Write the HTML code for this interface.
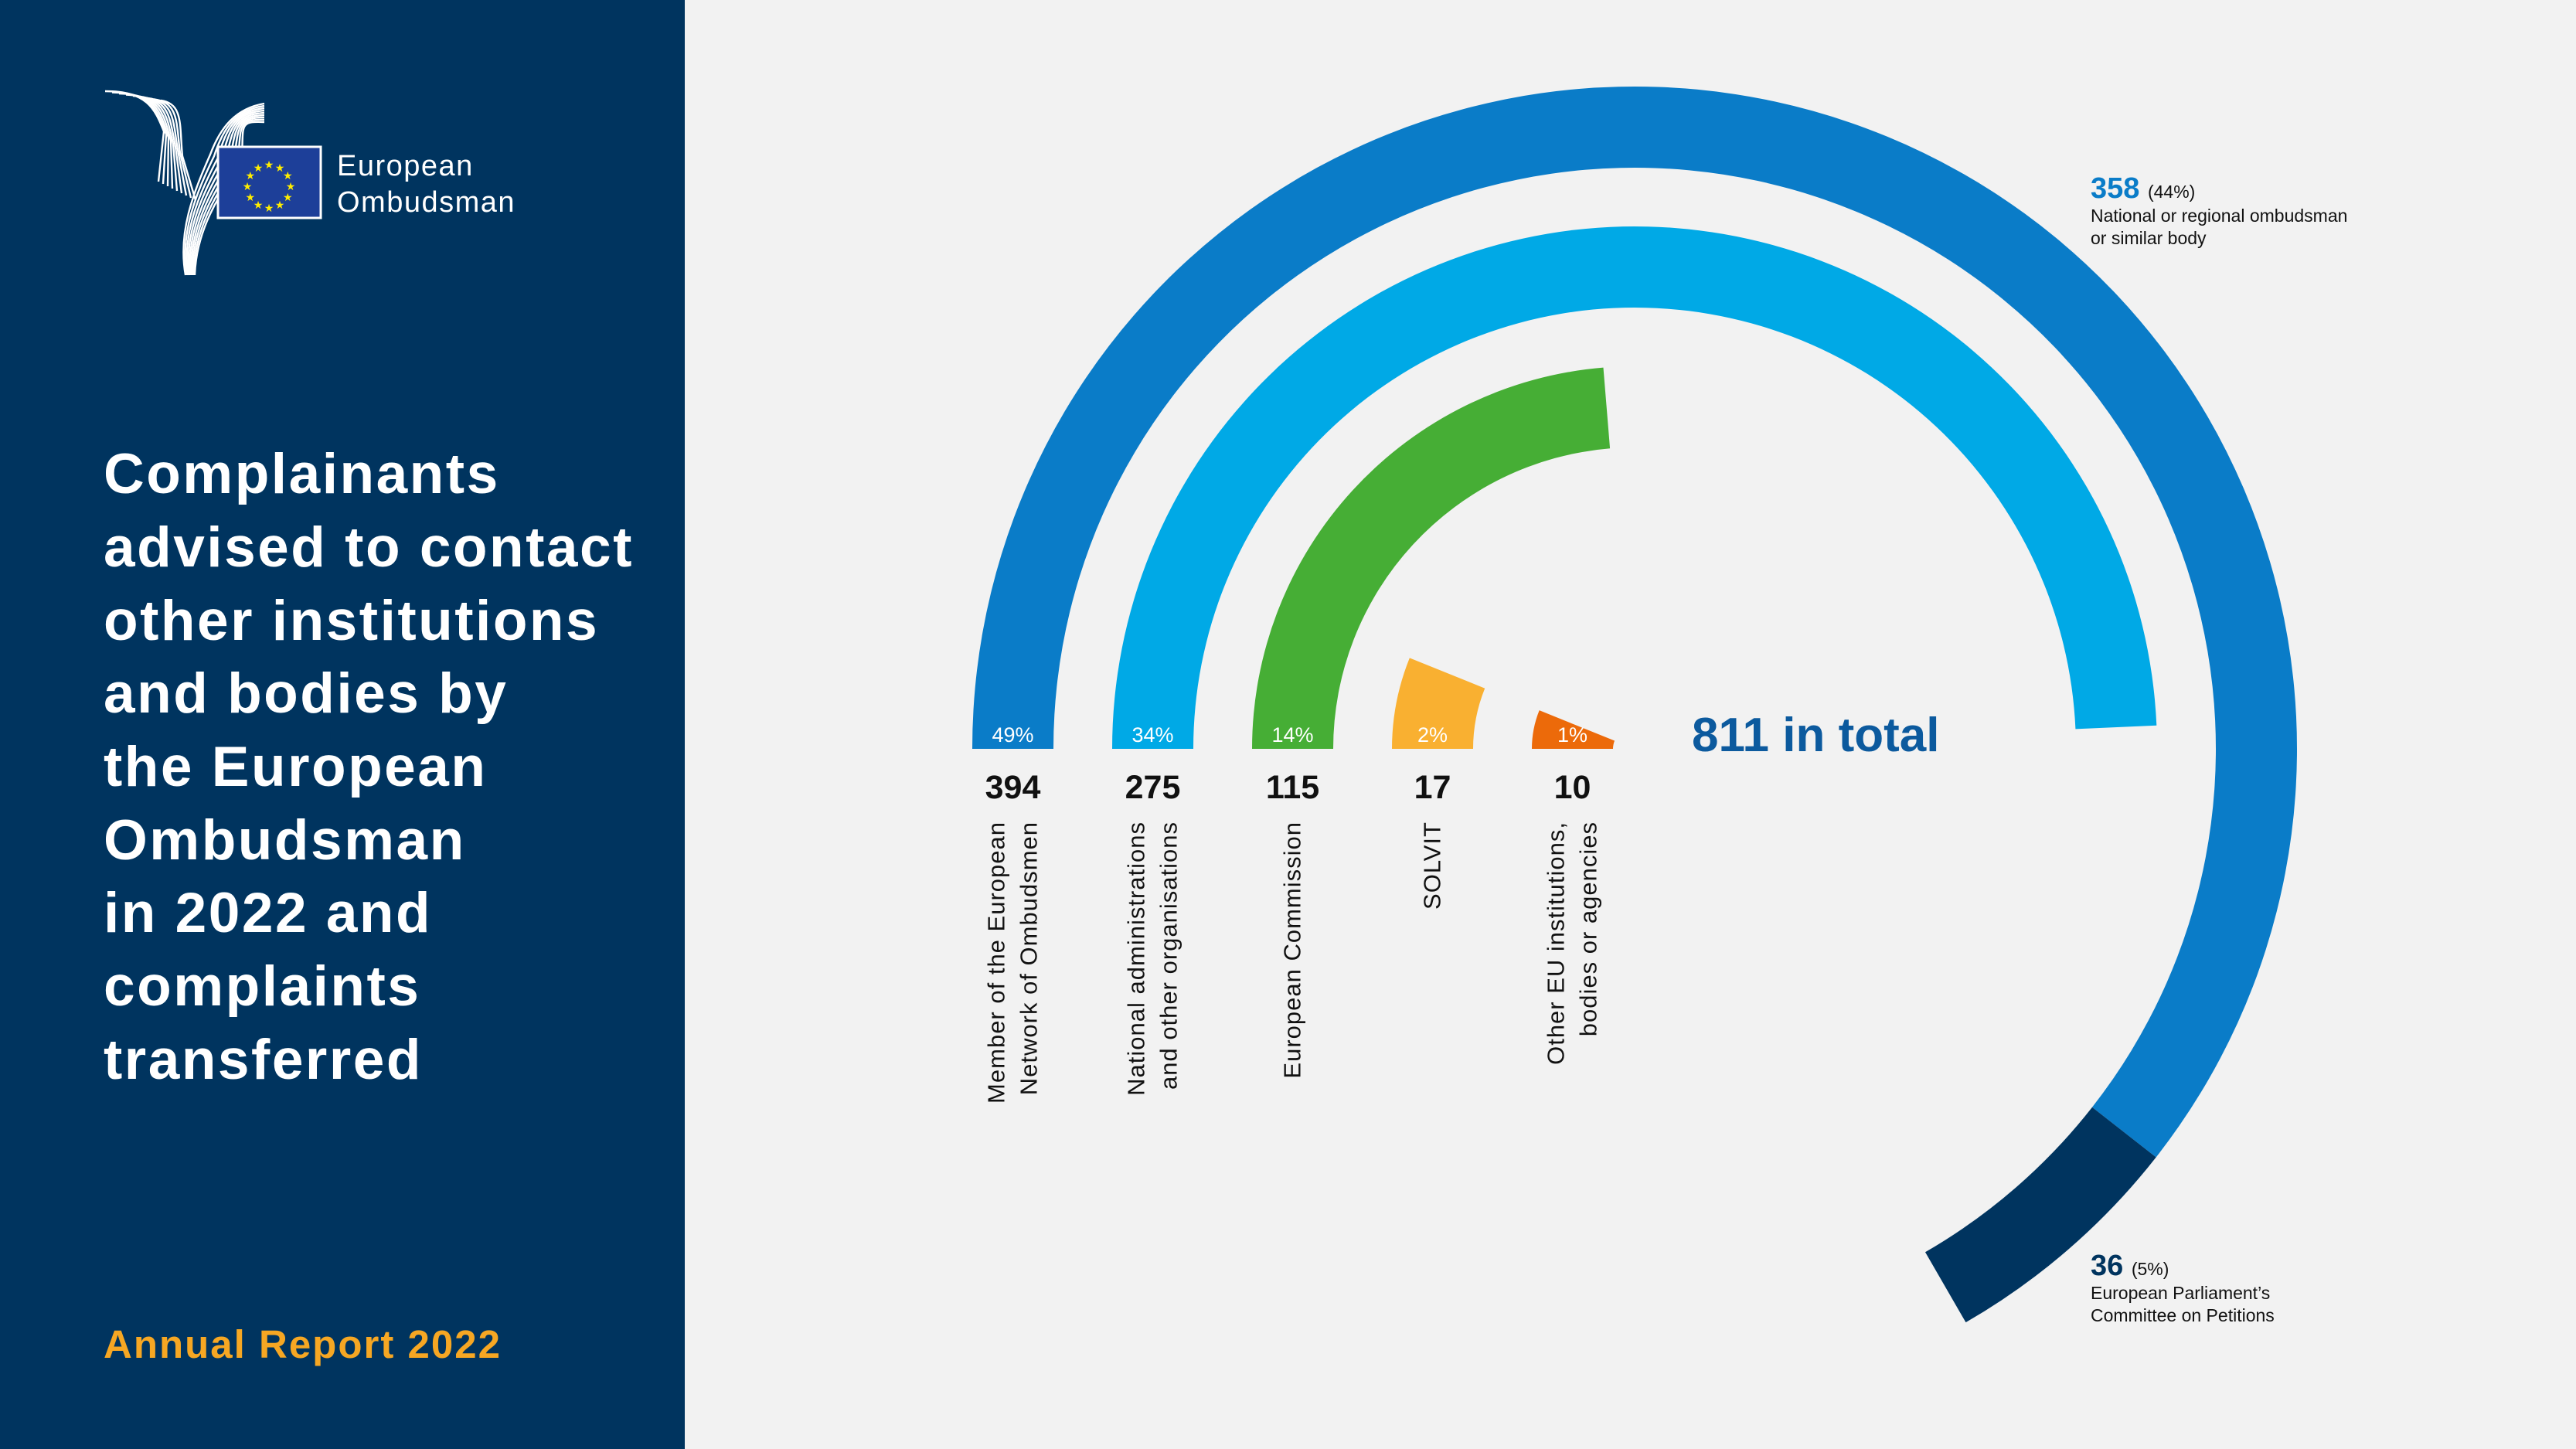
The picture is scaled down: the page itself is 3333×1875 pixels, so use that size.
<!DOCTYPE html>
<html><head><meta charset="utf-8">
<style>
html,body{margin:0;padding:0;width:3333px;height:1875px;overflow:hidden;background:#f2f2f2;font-family:"Liberation Sans",sans-serif}
svg{display:block}
</style></head>
<body>
<svg id="chart" width="3333" height="1875" viewBox="0 0 3333 1875" xmlns="http://www.w3.org/2000/svg">
  <rect x="0" y="0" width="3333" height="1875" fill="#f2f2f2"/>
  <rect x="0" y="0" width="886" height="1875" fill="#00345f"/>
  <g>
    <g id="wing" fill="none" stroke="#ffffff" stroke-width="2.4"></g>
    <rect x="282" y="190" width="133" height="92" fill="#1d3f99" stroke="#ffffff" stroke-width="3"/>
    <g fill="#ffed00" font-size="14" text-anchor="middle" font-family="DejaVu Sans">
      <text x="348" y="245" id="stars"></text>
    </g>
    <text x="436" y="227" fill="#fff" font-size="38" letter-spacing="1.5">European</text>
    <text x="436" y="274" fill="#fff" font-size="38" letter-spacing="1.5">Ombudsman</text>
  </g>
  <g fill="#ffffff" font-size="73" font-weight="bold" letter-spacing="2.5">
    <text x="134" y="638">Complainants</text>
    <text x="134" y="733">advised to contact</text>
    <text x="134" y="828">other institutions</text>
    <text x="134" y="922">and bodies by</text>
    <text x="134" y="1017">the European</text>
    <text x="134" y="1112">Ombudsman</text>
    <text x="134" y="1206">in 2022 and</text>
    <text x="134" y="1301">complaints</text>
    <text x="134" y="1396">transferred</text>
  </g>
  <text x="134" y="1757" fill="#f6a723" font-size="51" font-weight="bold" letter-spacing="2">Annual Report 2022</text>
  <g id="rings"></g>
  <g id="labels"></g>
  <text x="2189" y="972" fill="#0c5a9e" font-size="62" font-weight="bold">811 in total</text>
  <g>
    <text x="2705" y="256" font-size="38" font-weight="bold" fill="#0a7cc8">358 <tspan font-size="23" font-weight="normal" fill="#111">(44%)</tspan></text>
    <text x="2705" y="287" font-size="23" fill="#111">National or regional ombudsman</text>
    <text x="2705" y="316" font-size="23" fill="#111">or similar body</text>
  </g>
  <g>
    <text x="2705" y="1650" font-size="38" font-weight="bold" fill="#00345f">36 <tspan font-size="23" font-weight="normal" fill="#111">(5%)</tspan></text>
    <text x="2705" y="1681" font-size="23" fill="#111">European Parliament’s</text>
    <text x="2705" y="1710" font-size="23" fill="#111">Committee on Petitions</text>
  </g>
</svg>
<script>
const categories = [["Member of the European","Network of Ombudsmen"],["National administrations","and other organisations"],["European Commission"],["SOLVIT"],["Other EU institutions,","bodies or agencies"]];
const values = [394, 275, 115, 17, 10];
const percents = ["49%","34%","14%","2%","1%"];
const colors = ["#0a7cc8","#00a9e6","#46ae35","#f9b031","#ec6a0a"];
const outerSplit = [358, 36];
const outerSplitColors = ["#0a7cc8","#00345f"];

const NS = "http://www.w3.org/2000/svg";
const cx = 2115, cy = 969, outer0 = 857, step = 181, width = 105;
const vmax = Math.max(...values);
function angleScale(v){ return Math.max(22, 240 * Math.pow(v / vmax, 0.84)); }
function pt(r, a){ const t = a*Math.PI/180; return [cx - r*Math.cos(t), cy - r*Math.sin(t)]; }
function arcPath(r0, r1, a0, a1){
  const large = (a1 - a0) > 180 ? 1 : 0;
  const p0 = pt(r1,a0), p1 = pt(r1,a1), p2 = pt(r0,a1), p3 = pt(r0,a0);
  return `M${p0[0]} ${p0[1]} A${r1} ${r1} 0 ${large} 1 ${p1[0]} ${p1[1]} L${p2[0]} ${p2[1]} A${r0} ${r0} 0 ${large} 0 ${p3[0]} ${p3[1]} Z`;
}
const rings = document.getElementById('rings');
const labels = document.getElementById('labels');
values.forEach((v, i) => {
  const r1 = outer0 - i*step, r0 = r1 - width;
  const sweep = angleScale(v);
  if (i === 0) {
    const tot = outerSplit.reduce((a,b)=>a+b,0);
    let a = 0;
    outerSplit.forEach((sv, j) => {
      const a2 = a + sweep * sv / tot;
      const p = document.createElementNS(NS,'path');
      p.setAttribute('d', arcPath(r0, r1, a, a2));
      p.setAttribute('fill', outerSplitColors[j]);
      
      
      rings.appendChild(p);
      a = a2;
    });
  } else {
    const p = document.createElementNS(NS,'path');
    p.setAttribute('d', arcPath(r0, r1, 0, sweep));
    p.setAttribute('fill', colors[i]);
    
    
    rings.appendChild(p);
  }
  const mx = cx - (r0 + r1)/2;
  const pc = document.createElementNS(NS,'text');
  pc.setAttribute('x', mx); pc.setAttribute('y', 960);
  pc.setAttribute('text-anchor','middle'); pc.setAttribute('fill','#fff'); pc.setAttribute('font-size','27');
  pc.textContent = percents[i];
  
  
  labels.appendChild(pc);
  const nv = document.createElementNS(NS,'text');
  nv.setAttribute('x', mx); nv.setAttribute('y', 1033);
  nv.setAttribute('text-anchor','middle'); nv.setAttribute('fill','#111'); nv.setAttribute('font-size','43'); nv.setAttribute('font-weight','bold');
  nv.textContent = v;
  
  
  labels.appendChild(nv);
  const lines = categories[i];
  lines.forEach((ln, k) => {
    const x = mx + 10 + (k - (lines.length-1)/2) * 42;
    const t = document.createElementNS(NS,'text');
    t.setAttribute('transform', `translate(${x},1063) rotate(-90)`);
    t.setAttribute('text-anchor','end'); t.setAttribute('fill','#111'); t.setAttribute('font-size','31'); t.setAttribute('letter-spacing','1');
    t.textContent = ln;
    
    
    labels.appendChild(t);
  });
});
// EU stars
const starG = document.getElementById('stars').parentNode;
for (let k=0;k<12;k++){
  const a = k*30*Math.PI/180;
  const s = document.createElementNS(NS,'text');
  s.setAttribute('x', 348 + 28*Math.sin(a)); s.setAttribute('y', 241 - 28*Math.cos(a) + 5);
  s.textContent = '★';
  
  
  starG.appendChild(s);
}
// wing stripes
const wing = document.getElementById('wing');
for (let i=0;i<9;i++){
  const p = document.createElementNS(NS,'path');
  p.setAttribute('d', `M${136+i*9} ${118+i*1.5} C${190+i*6} ${118+i*2} ${200+i*4} ${140+i*3} ${212+i*3} ${170+i*4} L${205+i*6} ${235+i*3}`);
  
  
  wing.appendChild(p);
  const q = document.createElementNS(NS,'path');
  q.setAttribute('d', `M${240+i*1.5} ${356} C${230+i*3} ${300} ${250+i*4} ${250} ${272+i*5} ${200+i*2} C${285+i*4} ${165} ${305} ${140+i*2} ${342} ${134+i*3}`);
  
  
  wing.appendChild(q);
}
</script>
</body></html>
